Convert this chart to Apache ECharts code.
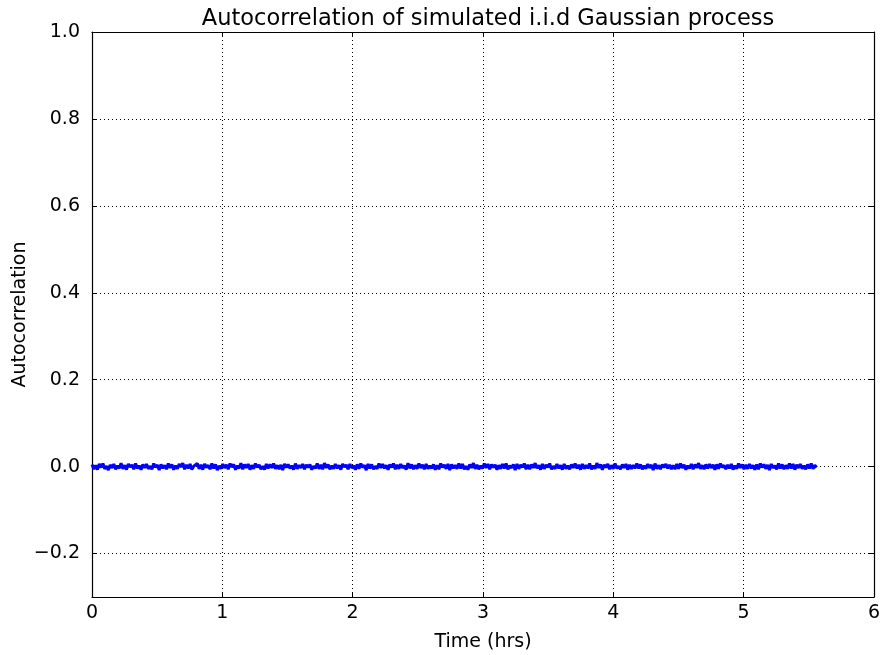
<!DOCTYPE html>
<html>
<head>
<meta charset="utf-8">
<script src="https://cdn.jsdelivr.net/npm/echarts@6/dist/echarts.min.js"></script>
<style>
  html, body { margin: 0; padding: 0; background: #fff; }
  #chart { width: 880px; height: 655px; }
</style>
</head>
<body>
<div id="chart"></div>
<script>
// Sample autocorrelation of a simulated i.i.d. Gaussian series, one value per lag.
const acf = [
  0.005,-0.006,0.003,-0.007,0.006,-0.002,0.007,-0.005,0.001,-0.008,0.004,-0.003,0.006,-0.006,0.002,-0.004,0.008,-0.005,0.003,-0.007,
  0.006,-0.001,0.004,-0.006,0.007,-0.004,0.002,-0.007,0.005,-0.003,0.006,-0.005,0.001,-0.006,0.007,-0.002,0.004,-0.008,0.005,-0.004,
  0.003,-0.006,0.007,-0.003,0.005,-0.007,0.002,-0.005,0.006,-0.001,0.008,-0.006,0.004,-0.004,0.006,-0.007,0.001,-0.003,0.007,-0.005,
  0.004,-0.007,0.006,-0.002,0.003,-0.006,0.007,-0.004,0.005,-0.008,0.002,-0.005,0.006,-0.003,0.004,-0.006,0.007,-0.001,0.005,-0.007,
  0.002,-0.004,0.008,-0.006,0.005,-0.003,0.006,-0.007,0.003,-0.005,0.007,-0.002,0.004,-0.006,0.001,-0.007,0.006,-0.004,0.005,-0.003,
  0.007,-0.005,0.003,-0.006,0.004,-0.008,0.006,-0.002,0.005,-0.004,0.002,-0.007,0.007,-0.005,0.003,-0.003,0.006,-0.006,0.004,-0.002,
  0.005,-0.007,0.001,-0.004,0.007,-0.005,0.004,-0.006,0.008,-0.003,0.005,-0.006,0.002,-0.005,0.006,-0.004,0.003,-0.007,0.006,-0.001,
  0.004,-0.006,0.006,-0.003,0.002,-0.007,0.005,-0.005,0.007,-0.002,0.003,-0.008,0.006,-0.004,0.005,-0.006,0.001,-0.005,0.007,-0.003,
  0.006,-0.004,0.003,-0.007,0.005,-0.002,0.007,-0.006,0.004,-0.005,0.006,-0.003,0.002,-0.007,0.008,-0.004,0.005,-0.006,0.003,-0.005,
  0.007,-0.003,0.004,-0.006,0.006,-0.005,0.002,-0.004,0.005,-0.007,0.003,-0.006,0.007,-0.002,0.004,-0.005,0.006,-0.008,0.005,-0.004,
  0.003,-0.005,0.007,-0.004,0.006,-0.006,0.001,-0.007,0.005,-0.003,0.008,-0.005,0.004,-0.006,0.002,-0.004,0.007,-0.003,0.006,-0.006,
  0.005,-0.002,0.004,-0.007,0.003,-0.005,0.006,-0.004,0.007,-0.006,0.002,-0.003,0.005,-0.008,0.006,-0.005,0.004,-0.002,0.007,-0.006,
  0.004,-0.006,0.005,-0.003,0.008,-0.004,0.003,-0.007,0.006,-0.005,0.004,-0.002,0.007,-0.006,0.001,-0.005,0.006,-0.004,0.003,-0.007,
  0.006,-0.005,0.002,-0.006,0.005,-0.003,0.007,-0.004,0.004,-0.007,0.006,-0.005,0.003,-0.004,0.007,-0.006,0.002,-0.005,0.008,-0.003,
  0.005,-0.007,0.004,-0.002,0.006,-0.006,0.003,-0.005,0.007,-0.004,0.001,-0.006,0.005,-0.003,0.006,-0.007,0.004,-0.005,0.003,-0.004,
  0.007,-0.004,0.005,-0.006,0.002,-0.005,0.006,-0.003,0.004,-0.008,0.007,-0.005,0.003,-0.006,0.005,-0.002,0.006,-0.004,0.004,-0.006,
  0.003,-0.006,0.006,-0.005,0.007,-0.003,0.004,-0.007,0.002,-0.004,0.006,-0.006,0.005,-0.003,0.008,-0.005,0.003,-0.006,0.005,-0.004,
  0.006,-0.003,0.004,-0.007,0.005,-0.005,0.007,-0.002,0.003,-0.006,0.004,-0.004,0.006,-0.007,0.002,-0.005,0.007,-0.003,0.005,-0.006,
  0.004,-0.005,0.006,-0.004,0.003,-0.007,0.005,-0.006,0.007,-0.002,0.005,-0.005,0.004,-0.008,0.006,-0.003,0.002,-0.006,0.007,-0.004,
  0.005,-0.006,0.003,-0.005,0.007,-0.004,0.006,-0.007,0.004,-0.003,0.006,-0.005,0.002,-0.006,0.005,-0.004,0.007,-0.005,0.003,-0.002
];
const maxLagHrs = 5.56;            // last lag shown, in hours
const xTicks = [0, 1, 2, 3, 4, 5, 6];
const yTicks = [-0.2, 0.0, 0.2, 0.4, 0.6, 0.8, 1.0];

const lagStep = maxLagHrs / (acf.length - 1);
const seriesData = acf.map((v, i) => [i * lagStep, v]);

const FONT = 'DejaVu Sans';
const frame = { show: true, onZero: false, lineStyle: { color: '#000', width: 1.2 } };
const grid = { show: true, lineStyle: { color: '#000', type: [1, 3], width: 1 } };
const tick = { show: true, inside: true, length: 5, lineStyle: { color: '#000', width: 1 } };
const fmtY = v => (v < 0 ? '\u2212' : '') + Math.abs(v).toFixed(1);

const chart = echarts.init(document.getElementById('chart'));
chart.setOption({
  animation: false,
  backgroundColor: '#fff',
  title: {
    text: 'Autocorrelation of simulated i.i.d Gaussian process',
    left: 483, textAlign: 'center', top: 3,
    textStyle: { fontFamily: FONT, fontSize: 22.5, fontWeight: 'normal', color: '#000' }
  },
  grid: { left: 92, right: 6, top: 32, bottom: 58, containLabel: false, outerBoundsMode: 'none' },
  xAxis: [
    {
      type: 'value', position: 'bottom', min: 0, max: 6, interval: 1,
      name: 'Time (hrs)', nameLocation: 'middle', nameGap: 36, nameMoveOverlap: false,
      nameTextStyle: { fontFamily: FONT, fontSize: 19, color: '#000' },
      axisLine: frame, axisTick: tick, splitLine: grid,
      axisLabel: { fontFamily: FONT, fontSize: 19, color: '#000', margin: 7 }
    },
    {
      type: 'value', position: 'top', min: 0, max: 6, interval: 1,
      axisLine: frame, axisTick: tick, splitLine: { show: false },
      axisLabel: { show: false }
    }
  ],
  yAxis: [
    {
      type: 'value', position: 'left', min: -0.3, max: 1.0,
      name: 'Autocorrelation', nameLocation: 'middle', nameGap: 62, nameMoveOverlap: false,
      nameTextStyle: { fontFamily: FONT, fontSize: 19, color: '#000' },
      axisLine: frame,
      axisTick: Object.assign({}, tick, { customValues: yTicks }),
      splitLine: grid,
      axisLabel: { fontFamily: FONT, fontSize: 19, color: '#000', margin: 12, customValues: yTicks, formatter: fmtY }
    },
    {
      type: 'value', position: 'right', min: -0.3, max: 1.0,
      axisLine: frame,
      axisTick: Object.assign({}, tick, { customValues: yTicks }),
      splitLine: { show: false },
      axisLabel: { show: false, customValues: yTicks }
    }
  ],
  series: [{
    type: 'line',
    data: seriesData,
    xAxisIndex: 0, yAxisIndex: 0,
    showSymbol: false,
    lineStyle: { color: '#0000ff', width: 3 },
    z: 3
  }]
});
</script>
</body>
</html>
